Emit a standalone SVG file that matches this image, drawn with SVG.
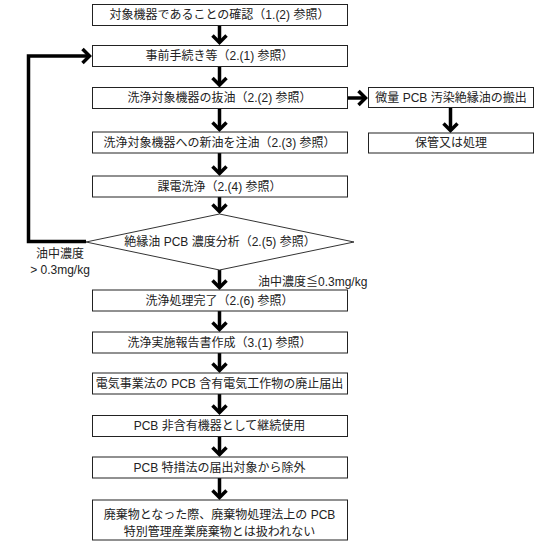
<svg xmlns="http://www.w3.org/2000/svg" width="560" height="548" viewBox="0 0 560 548">
<style>
.box{fill:#fff;stroke:#222;stroke-width:1}
.t{font-family:"Liberation Sans","Noto Sans CJK JP",sans-serif;font-size:12px;fill:#222;text-anchor:middle}
.ts{font-family:"Liberation Sans","Noto Sans CJK JP",sans-serif;font-size:12px;fill:#222}
.c{fill:none;stroke:#000;stroke-width:3.5;marker-end:url(#ah)}
</style>
<defs>
<marker id="ah" viewBox="-10 -10 20 20" markerWidth="20" markerHeight="20" markerUnits="userSpaceOnUse" refX="0" refY="0" orient="auto">
<path d="M-7,-7 L0,0 L-7,7" fill="none" stroke="#000" stroke-width="3.5" stroke-linejoin="miter"/>
</marker>
</defs>
<rect width="560" height="548" fill="#fff"/>
<g id="connectors">
<path class="c" d="M219.5,25.5 V42.5"/>
<path class="c" d="M219.5,66.5 V85"/>
<path class="c" d="M219.5,108.5 V129.5"/>
<path class="c" d="M219.5,153 V173.5"/>
<path class="c" d="M219.5,197 V211.5"/>
<path class="c" d="M219.5,270 V287.5"/>
<path class="c" d="M219.5,311 V329.5"/>
<path class="c" d="M219.5,353 V370.5"/>
<path class="c" d="M219.5,394 V412.5"/>
<path class="c" d="M219.5,437 V454.5"/>
<path class="c" d="M219.5,478 V497.5"/>
<path class="c" d="M347.5,98 H365.5"/>
<path class="c" d="M450.5,107.5 V130.5"/>
<path class="c" d="M86,241.5 H28.5 V56 H89.5" stroke-linejoin="miter"/>
</g>
<g id="n1"><rect class="box" x="92.5" y="4.5" width="255" height="21"/><text class="t" x="219.5" y="19.3">対象機器であることの確認（1.(2) 参照）</text></g>
<g id="n2"><rect class="box" x="92.5" y="45.5" width="255" height="21"/><text class="t" x="219.5" y="60.3">事前手続き等（2.(1) 参照）</text></g>
<g id="n3"><rect class="box" x="92.5" y="87.5" width="255" height="21"/><text class="t" x="219.5" y="102.3">洗浄対象機器の抜油（2.(2) 参照）</text></g>
<g id="n4"><rect class="box" x="92.5" y="132" width="255" height="21"/><text class="t" x="219.5" y="146.8">洗浄対象機器への新油を注油（2.(3) 参照）</text></g>
<g id="n5"><rect class="box" x="92.5" y="176" width="255" height="21"/><text class="t" x="219.5" y="190.8">課電洗浄（2.(4) 参照）</text></g>
<g id="d1"><polygon points="219.5,214 354,242 219.5,270 86,242" fill="#fff" stroke="#333" stroke-width="1"/><text class="t" x="220" y="246.3">絶縁油 PCB 濃度分析（2.(5) 参照）</text></g>
<g id="n6"><rect class="box" x="92.5" y="290" width="255" height="21"/><text class="t" x="219.5" y="304.8">洗浄処理完了（2.(6) 参照）</text></g>
<g id="n7"><rect class="box" x="92.5" y="332" width="255" height="21"/><text class="t" x="219.5" y="346.8">洗浄実施報告書作成（3.(1) 参照）</text></g>
<g id="n8"><rect class="box" x="92.5" y="373" width="255" height="21"/><text class="t" x="219.5" y="387.8">電気事業法の PCB 含有電気工作物の廃止届出</text></g>
<g id="n9"><rect class="box" x="92.5" y="415.5" width="255" height="21"/><text class="t" x="219.5" y="430.3">PCB 非含有機器として継続使用</text></g>
<g id="n10"><rect class="box" x="92.5" y="457" width="255" height="21"/><text class="t" x="219.5" y="471.8">PCB 特措法の届出対象から除外</text></g>
<g id="n11"><rect class="box" x="92.5" y="500" width="255" height="40"/><text class="t" x="219.5" y="519">廃棄物となった際、廃棄物処理法上の PCB</text><text class="t" x="219.5" y="536">特別管理産業廃棄物とは扱われない</text></g>
<g id="r1"><rect class="box" x="368.5" y="87.5" width="165" height="20"/><text class="t" x="451" y="101.8">微量 PCB 汚染絶縁油の搬出</text></g>
<g id="r2"><rect class="box" x="368.5" y="133" width="165" height="20"/><text class="t" x="451" y="147.3">保管又は処理</text></g>
<g id="labels">
<text class="t" x="60" y="258">油中濃度</text>
<text class="t" x="60" y="274">&gt; 0.3mg/kg</text>
<text class="ts" x="258" y="285.5">油中濃度≦0.3mg/kg</text>
</g>
</svg>
